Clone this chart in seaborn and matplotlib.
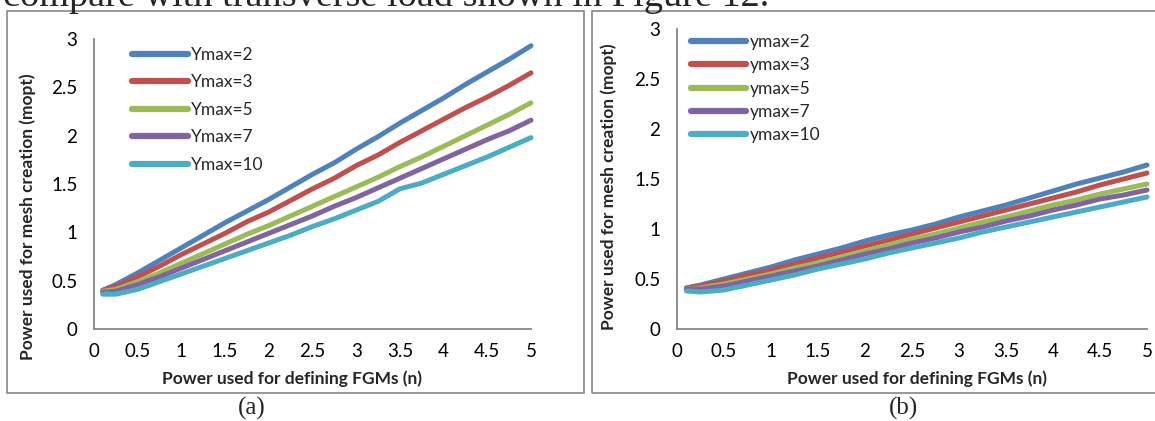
import numpy as np
import pandas as pd
import matplotlib
matplotlib.use("Agg")
import matplotlib.pyplot as plt
import seaborn as sns
from matplotlib.patches import Rectangle

# x values (power n)
n_vals = [0.1, 0.25, 0.5, 0.75, 1.0, 1.25, 1.5, 1.75, 2.0, 2.25, 2.5,
          2.75, 3.0, 3.25, 3.5, 3.75, 4.0, 4.25, 4.5, 4.75, 5.0]

# panel (a)
labels_a = ["Ymax=2", "Ymax=3", "Ymax=5", "Ymax=7", "Ymax=10"]
a_ymax2 = [0.40, 0.46, 0.58, 0.71, 0.84, 0.97, 1.10, 1.22, 1.34, 1.47, 1.60,
           1.72, 1.86, 1.99, 2.13, 2.26, 2.39, 2.53, 2.66, 2.79, 2.93]
a_ymax3 = [0.40, 0.44, 0.54, 0.65, 0.77, 0.88, 0.99, 1.11, 1.21, 1.33, 1.45,
           1.56, 1.69, 1.80, 1.93, 2.05, 2.17, 2.29, 2.40, 2.52, 2.65]
a_ymax5 = [0.39, 0.41, 0.49, 0.58, 0.68, 0.78, 0.88, 0.98, 1.07, 1.17, 1.27,
           1.37, 1.47, 1.57, 1.68, 1.78, 1.89, 2.00, 2.11, 2.22, 2.34]
a_ymax7 = [0.38, 0.39, 0.46, 0.54, 0.63, 0.72, 0.81, 0.90, 0.99, 1.08, 1.17,
           1.27, 1.36, 1.46, 1.56, 1.66, 1.76, 1.86, 1.96, 2.05, 2.16]
a_ymax10 = [0.36, 0.36, 0.41, 0.49, 0.57, 0.65, 0.73, 0.81, 0.89, 0.97, 1.06,
            1.14, 1.23, 1.32, 1.45, 1.51, 1.60, 1.69, 1.78, 1.88, 1.98]

# panel (b)
labels_b = ["ymax=2", "ymax=3", "ymax=5", "ymax=7", "ymax=10"]
b_ymax2 = [0.41, 0.44, 0.50, 0.56, 0.62, 0.69, 0.75, 0.81, 0.88, 0.94, 0.99,
           1.05, 1.12, 1.18, 1.24, 1.31, 1.38, 1.45, 1.51, 1.57, 1.64]
b_ymax3 = [0.41, 0.43, 0.48, 0.54, 0.59, 0.65, 0.71, 0.77, 0.83, 0.89, 0.95,
           1.01, 1.07, 1.13, 1.19, 1.25, 1.31, 1.37, 1.44, 1.50, 1.56]
b_ymax5 = [0.40, 0.41, 0.45, 0.50, 0.55, 0.61, 0.66, 0.72, 0.78, 0.84, 0.90,
           0.95, 1.01, 1.07, 1.12, 1.18, 1.24, 1.29, 1.35, 1.40, 1.45]
b_ymax7 = [0.40, 0.40, 0.43, 0.48, 0.53, 0.58, 0.63, 0.69, 0.75, 0.80, 0.86,
           0.91, 0.97, 1.02, 1.08, 1.13, 1.19, 1.24, 1.30, 1.34, 1.39]
b_ymax10 = [0.38, 0.37, 0.39, 0.44, 0.49, 0.54, 0.60, 0.65, 0.70, 0.76, 0.81,
            0.86, 0.91, 0.97, 1.02, 1.07, 1.12, 1.17, 1.22, 1.27, 1.32]

colors = ["#4F81BD", "#C0504D", "#9BBB59", "#8064A2", "#4BACC6"]
ticks_x = [0, 0.5, 1, 1.5, 2, 2.5, 3, 3.5, 4, 4.5, 5]
ticks_y = [0, 0.5, 1, 1.5, 2, 2.5, 3]


def long_df(labels, series):
    rows = []
    for lab, vals in zip(labels, series):
        for x, y in zip(n_vals, vals):
            rows.append({"n": x, "mopt": y, "series": lab})
    return pd.DataFrame(rows)


df_a = long_df(labels_a, [a_ymax2, a_ymax3, a_ymax5, a_ymax7, a_ymax10])
df_b = long_df(labels_b, [b_ymax2, b_ymax3, b_ymax5, b_ymax7, b_ymax10])

sns.set_theme(style="white")
plt.rcParams['font.family'] = ['Lato', 'DejaVu Sans']

W, H = 1155, 421
fig = plt.figure(figsize=(W / 100, H / 100), dpi=100)


def fx(px):
    return px / W


def fy(py):
    return 1 - py / H


grey = "#868686"

# frames around panels
fig.patches.append(Rectangle((fx(7), fy(393)), fx(584 - 7), fy(11) - fy(393),
                             transform=fig.transFigure, fill=False,
                             edgecolor=grey, linewidth=1.2))
fig.patches.append(Rectangle((fx(592), fy(393)), fx(1200 - 592), fy(11) - fy(393),
                             transform=fig.transFigure, fill=False,
                             edgecolor=grey, linewidth=1.2))

ax_a = fig.add_axes([fx(94), fy(329), fx(531 - 94), fy(39) - fy(329)])
ax_b = fig.add_axes([fx(677), fy(329), fx(1147 - 677), fy(29) - fy(329)])

for ax, df, labels in [(ax_a, df_a, labels_a), (ax_b, df_b, labels_b)]:
    sns.lineplot(data=df, x="n", y="mopt", hue="series", hue_order=labels,
                 palette=colors, linewidth=3.6, ax=ax, legend=True)
    for ln in ax.lines:
        ln.set_solid_capstyle("round")
        ln.set_clip_on(False)
    ax.set_xlim(0, 5)
    ax.set_ylim(0, 3)
    ax.set_xticks(ticks_x)
    ax.set_xticklabels([f"{t:g}" for t in ticks_x])
    ax.set_yticks(ticks_y)
    ax.set_yticklabels([f"{t:g}" for t in ticks_y])
    ax.set_xlabel("")
    ax.set_ylabel("")
    ax.patch.set_alpha(0)
    for s in ["top", "right"]:
        ax.spines[s].set_visible(False)
    for s in ["left", "bottom"]:
        ax.spines[s].set_color(grey)
        ax.spines[s].set_linewidth(1.3)
    ax.tick_params(axis="x", length=0, pad=10, labelsize=13.5, colors="black")
    ax.tick_params(axis="y", length=0, pad=12, labelsize=13.5, colors="black")

# legends
leg_a = ax_a.legend(loc="upper left", bbox_to_anchor=(fx(132), fy(47)),
                    bbox_transform=fig.transFigure, frameon=False, fontsize=12.5,
                    handlelength=3.2, handletextpad=0.22, labelspacing=0.66,
                    borderpad=0, borderaxespad=0)
leg_b = ax_b.legend(loc="upper left", bbox_to_anchor=(fx(691), fy(34)),
                    bbox_transform=fig.transFigure, frameon=False, fontsize=12.5,
                    handlelength=3.15, handletextpad=0.22, labelspacing=0.42,
                    borderpad=0, borderaxespad=0)
for leg in (leg_a, leg_b):
    for h in leg.get_lines():
        h.set_linewidth(4.5)
        h.set_solid_capstyle("round")

# axis titles
xlab = "Power used for defining FGMs (n)"
ylab = "Power used for mesh creation (mopt)"
fig.text(fx(292), fy(379), xlab, ha="center", va="center", fontsize=12.5, fontweight="bold")
fig.text(fx(917), fy(379), xlab, ha="center", va="center", fontsize=12.5, fontweight="bold")
fig.text(fx(28), fy(217), ylab, ha="center", va="center", rotation=90, fontsize=12.5, fontweight="bold")
fig.text(fx(609), fy(187), ylab, ha="center", va="center", rotation=90, fontsize=12.5, fontweight="bold")

# captions and cut-off text line from page
fig.text(fx(252), fy(408), "(a)", ha="center", va="center", fontsize=18,
         family="Liberation Serif")
fig.text(fx(903), fy(408), "(b)", ha="center", va="center", fontsize=18,
         family="Liberation Serif")
fig.text(fx(3), fy(6), "compare with transverse load shown in Figure 12.",
         ha="left", va="baseline", fontsize=27.5, family="Liberation Serif")

fig.savefig("out.png", dpi=100)
